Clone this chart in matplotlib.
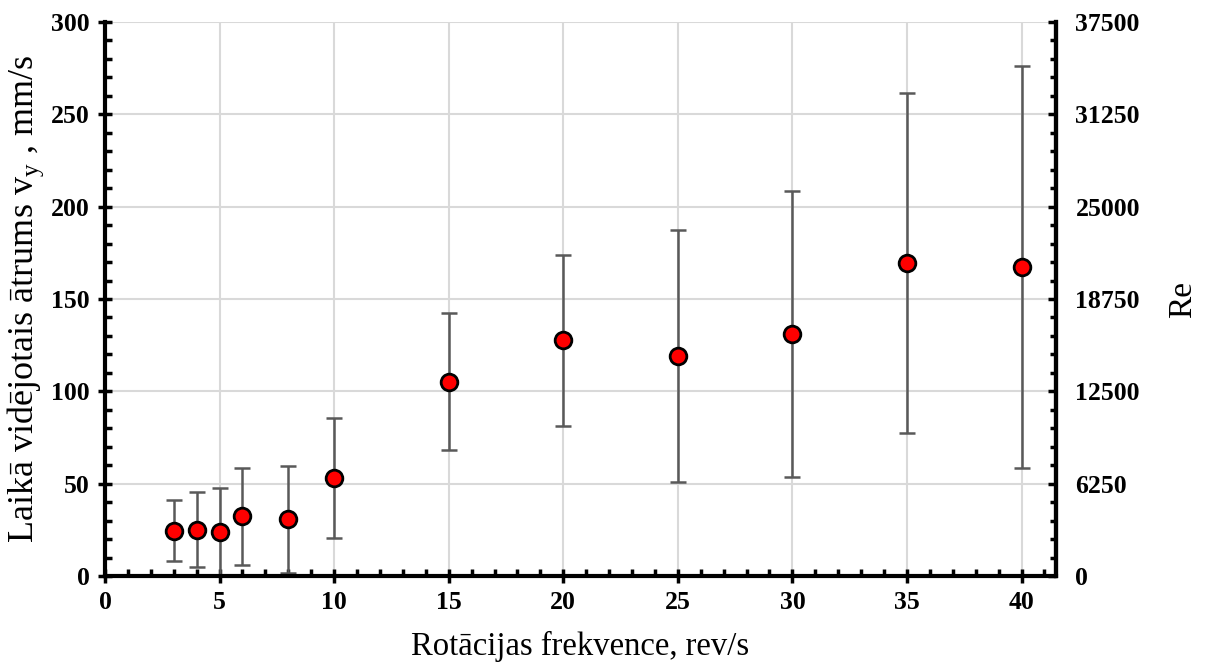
import numpy as np
import matplotlib.pyplot as plt
from matplotlib.ticker import MultipleLocator

# ---------------- data ---------------- #
freq = [3, 4, 5, 6, 8, 10, 15, 20, 25, 30, 35, 40]
vy_mean = [24.6, 25.0, 23.8, 32.3, 30.8, 53.1, 105.2, 127.6, 119.2, 131.1, 169.6, 167.4]
vy_err = [16.7, 20.3, 23.7, 26.4, 29.0, 32.4, 37.0, 46.4, 68.2, 77.4, 92.0, 108.8]

y_ticks = [0, 50, 100, 150, 200, 250, 300]
re_ticks = [0, 6250, 12500, 18750, 25000, 31250, 37500]
x_ticks = [0, 5, 10, 15, 20, 25, 30, 35, 40]

plt.rcParams['font.family'] = ['Liberation Serif', 'DejaVu Serif']
plt.rcParams['mathtext.fontset'] = 'custom'
plt.rcParams['mathtext.rm'] = 'Liberation Serif'

fig = plt.figure(figsize=(12.09, 6.65), dpi=100)
ax = fig.add_axes([0.0868, 0.1338, 0.7866, 0.8331])

# grid
ax.grid(True, which='major', color='#d9d9d9', linewidth=1.5, zorder=0)
ax.set_axisbelow(True)

# error bars + points
ax.errorbar(freq, vy_mean, yerr=vy_err, fmt='none', ecolor='#595959',
            elinewidth=1.8, capsize=6, capthick=1.8, zorder=2)
ax.plot(freq, vy_mean, 'o', markersize=12, markerfacecolor='#ff0000',
        markeredgecolor='black', markeredgewidth=2, linestyle='none', zorder=3)

ax.set_xlim(0, 41.5)
ax.set_ylim(0, 300)
ax.set_xticks(x_ticks)
ax.set_yticks(y_ticks)
ax.xaxis.set_minor_locator(MultipleLocator(1))
ax.yaxis.set_minor_locator(MultipleLocator(10))

for side in ['left', 'bottom', 'right']:
    ax.spines[side].set_linewidth(3)
ax.spines['top'].set_visible(False)

ax.tick_params(axis='both', which='major', direction='inout', length=10, width=2.5,
               labelsize=18.5)
ax.tick_params(axis='both', which='minor', direction='in', length=5, width=2.5)
ax.tick_params(axis='x', pad=6)
ax.tick_params(axis='y', pad=6)
for lab in ax.get_xticklabels() + ax.get_yticklabels():
    lab.set_fontweight('bold')

ax.set_xlabel('Rotācijas frekvence, rev/s', fontsize=23.5, labelpad=12)
ax.set_ylabel(r'Laikā vidējotais ātrums v$_{\mathregular{y}}$ , mm/s', fontsize=26)
ax.yaxis.set_label_coords(-0.062, 0.5)

# secondary axis with Reynolds number
ax2 = ax.twinx()
ax2.set_ylim(0, 37500)
ax2.set_yticks(re_ticks)
ax2.yaxis.set_minor_locator(MultipleLocator(1250))
ax2.spines['right'].set_linewidth(3)
ax2.spines['top'].set_visible(False)
ax2.spines['left'].set_visible(False)
ax2.spines['bottom'].set_visible(False)
ax2.tick_params(axis='y', which='major', direction='in', length=6, width=2.5,
                labelsize=18.5, pad=14)
ax2.tick_params(axis='y', which='minor', direction='in', length=4, width=2.5)
for lab in ax2.get_yticklabels():
    lab.set_fontweight('bold')
ax2.set_ylabel('Re', fontsize=24, labelpad=20)

fig.savefig('out.png', dpi=100)
